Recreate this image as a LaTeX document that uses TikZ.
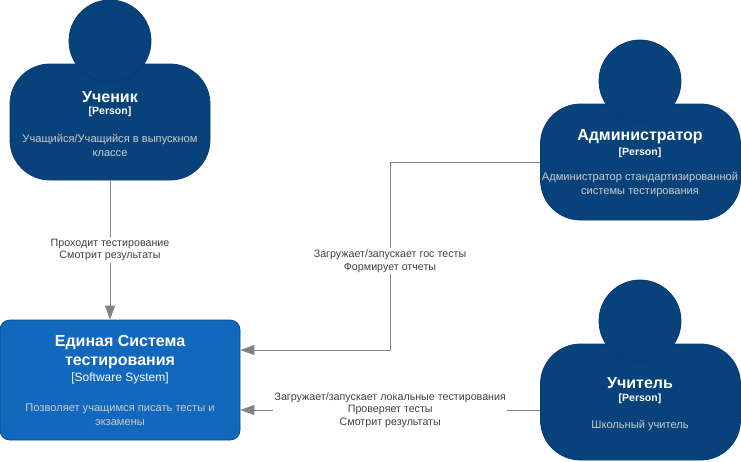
\documentclass[tikz,border=0pt]{standalone}
\usepackage{fontspec}
\setmainfont{Liberation Sans}
\usetikzlibrary{arrows.meta}
\definecolor{personblue}{HTML}{08427B}
\definecolor{personstroke}{HTML}{073B6F}
\definecolor{sysblue}{HTML}{1168BD}
\definecolor{sysstroke}{HTML}{0B4884}
\definecolor{desccol}{HTML}{CCCCCC}
\definecolor{edgecol}{HTML}{828282}
\definecolor{lblcol}{HTML}{404040}
\tikzset{
  personbody/.style={draw=personstroke, fill=personblue, rounded corners=40pt, minimum width=200pt, minimum height=116pt, inner sep=0pt, line width=0.8pt},
  personhead/.style={circle, draw=personstroke, fill=personblue, minimum size=82pt, inner sep=0pt, line width=0.8pt},
  sysbox/.style={draw=sysstroke, fill=sysblue, rounded corners=10pt, minimum width=240pt, minimum height=120pt, inner sep=0pt, line width=0.8pt},
  titletext/.style={text=white, align=center, inner sep=0pt, font=\bfseries\fontsize{16}{19}\selectfont},
  typetext/.style={text=white, align=center, inner sep=0pt, font=\bfseries\fontsize{10.5}{13}\selectfont},
  systypetext/.style={text=white, align=center, inner sep=0pt, font=\fontsize{12}{14}\selectfont},
  desctext/.style={text=desccol, align=center, inner sep=0pt, font=\fontsize{11.1}{14}\selectfont},
  rel/.style={draw=edgecol, line width=1pt, -{Triangle[length=14pt,width=10pt]}},
  lbl/.style={fill=white, text=lblcol, align=center, inner sep=1.5pt, font=\fontsize{10.7}{12.5}\selectfont},
}
\begin{document}
\begin{tikzpicture}[x=1pt,y=-1pt]
\useasboundingbox (0,0) rectangle (741,461);
\fill[white] (0,0) rectangle (741,461);
% Student
\node[personbody] (sbody) at (110,122) {};
\node[personhead] (shead) at (110,41) {};
\node[titletext] (stitle) at (110,97) {Ученик};
\node[typetext] (stype) at (110,112) {[Person]};
\node[desctext] (sdesc) at (110,145) {Учащийся/Учащийся в выпускном\\классе};
% Admin
\node[personbody] (abody) at (640.5,162) {};
\node[personhead] (ahead) at (640,81) {};
\node[titletext] (atitle) at (640,137) {Администратор};
\node[typetext] (atype) at (640,153) {[Person]};
\node[desctext] (adesc) at (640,185) {Администратор стандартизированной\\системы тестирования};
% Teacher
\node[personbody] (tbody) at (640.5,402) {};
\node[personhead] (thead) at (640,321) {};
\node[titletext] (ttitle) at (640,383) {Учитель};
\node[typetext] (ttype) at (640,399) {[Person]};
\node[desctext] (tdesc) at (640,426) {Школьный учитель};
% System
\node[sysbox] (sys) at (120,380) {};
\node[titletext] (systitle) at (120,352.5) {Единая Система\\тестирования};
\node[systypetext] (systype) at (120,378) {[Software System]};
\node[desctext] (sysdesc) at (120,414.5) {Позволяет учащимся писать тесты и\\экзамены};
% Connectors
\draw[rel] (sbody.south) -- node[lbl] (slbl) {Проходит тестирование\\Смотрит результаты} (sbody.south |- sys.north);
\coordinate (abend1) at (390,162);
\coordinate (abend2) at (390,350);
\draw[rel] (abody.west) -- (abend1) -- (abend2) -- ([yshift=30pt]sys.east);
\node[lbl] (albl) at (390,261) {Загружает/запускает гос тесты\\Формирует отчеты};
\draw[rel] ([yshift=-8pt]tbody.west) -- node[lbl] (tlbl) {Загружает/запускает локальные тестирования\\Проверяет тесты\\Смотрит результаты} ([yshift=-30pt]sys.east);
\end{tikzpicture}
\end{document}
